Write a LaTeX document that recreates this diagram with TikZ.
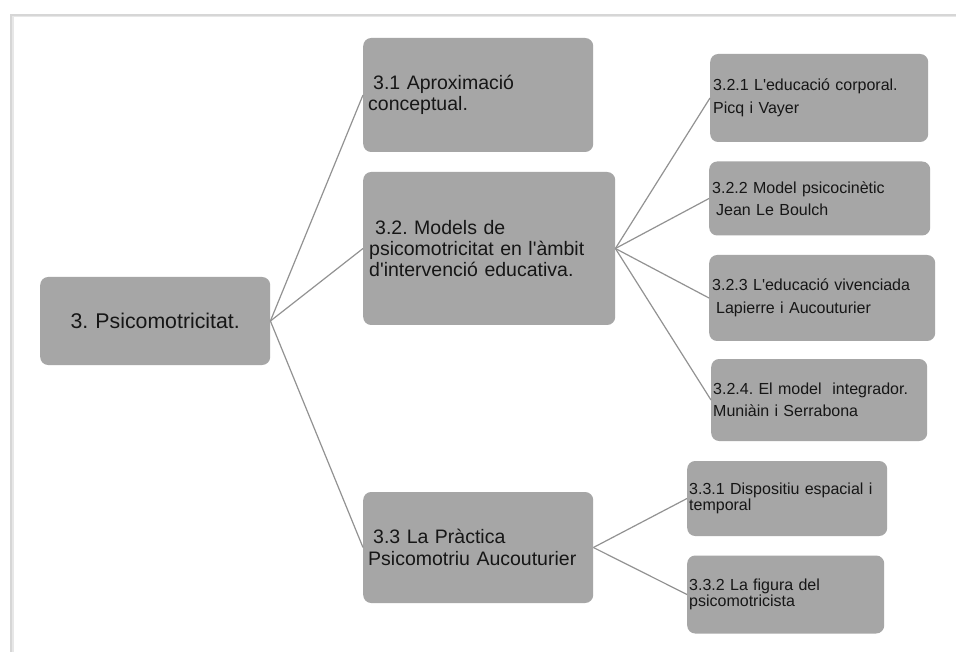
\documentclass[tikz,border=0pt]{standalone}
\usepackage{fontspec}
\setmainfont{Liberation Sans}
\definecolor{boxgray}{HTML}{A6A6A6}
\definecolor{ink}{HTML}{161616}
\definecolor{wire}{HTML}{929292}
\definecolor{framegray}{HTML}{D6D6D6}
\newcommand{\apos}{\textquotesingle}
\frenchspacing
\begin{document}
\begin{tikzpicture}[x=1pt,y=-1pt,
  box/.style={fill=boxgray, rounded corners=8pt, text=ink, inner ysep=0pt,
    anchor=west, align=left},
  toplevel/.style={box, font=\frenchspacing\fontsize{21.3}{24}\selectfont, align=center},
  midlevel/.style={box, font=\frenchspacing\fontsize{19.5}{21.3}\selectfont},
  leaflevel/.style={box, font=\frenchspacing\fontsize{16}{22.5}\selectfont},
  tightleaf/.style={box, font=\frenchspacing\fontsize{16}{16.2}\selectfont},
  link/.style={draw=wire, line width=1.2pt}]

% page and frame
\useasboundingbox (0,0) rectangle (956,652);
\fill[white] (0,0) rectangle (956,652);
\draw[framegray!60, line width=3pt] (12,652) -- (12,16) -- (956,16);
\draw[framegray, line width=1.3pt] (11,652) -- (11,15) -- (956,15);

% root
\node[toplevel, inner xsep=4pt, text width=222pt, minimum height=88pt]
  (root) at (40,321) {3. Psicomotricitat.};

% second level
\node[midlevel, inner xsep=5pt, text width=220pt, minimum height=114pt]
  (a) at (363,95) {\hspace*{5pt}3.1 Aproximació\\conceptual.};
\node[midlevel, inner xsep=6pt, text width=240pt, minimum height=153pt]
  (b) at (363,248.5) {\hspace*{6pt}3.2. Models de\\psicomotricitat en l\apos àmbit\\d\apos intervenció educativa.};
\node[midlevel, inner xsep=5pt, text width=220pt, minimum height=111pt]
  (c) at (363,547.5) {\hspace*{5pt}3.3 La Pràctica\\Psicomotriu Aucouturier};

% third level under 3.2
\node[leaflevel, inner xsep=3pt, text width=212pt, minimum height=88pt]
  (b1) at (710,98) {3.2.1 L\apos educació corporal.\\Picq i Vayer};
\node[leaflevel, inner xsep=3pt, text width=215pt, minimum height=74pt]
  (b2) at (709,198.5) {3.2.2 Model psicocinètic\\\hspace*{4pt}Jean Le Boulch};
\node[leaflevel, inner xsep=3pt, text width=220pt, minimum height=86pt]
  (b3) at (709,298) {3.2.3 L\apos educació vivenciada\\\hspace*{4pt}Lapierre i Aucouturier};
\node[leaflevel, inner xsep=2pt, text width=212pt, minimum height=82pt]
  (b4) at (711,400) {3.2.4. El model \ integrador.\\Muniàin i Serrabona};

% third level under 3.3
\node[tightleaf, inner xsep=2pt, text width=196pt, minimum height=75pt]
  (c1) at (687,498.5) {3.3.1 Dispositiu espacial i\\temporal};
\node[tightleaf, inner xsep=2pt, text width=193pt, minimum height=78pt]
  (c2) at (687,594.5) {3.3.2 La figura del\\psicomotricista};

% connectors
\foreach \t in {a,b,c} \draw[link] (root.east) -- (\t.west);
\foreach \t in {b1,b2,b3,b4} \draw[link] (b.east) -- (\t.west);
\foreach \t in {c1,c2} \draw[link] (c.east) -- (\t.west);
\end{tikzpicture}
\end{document}
